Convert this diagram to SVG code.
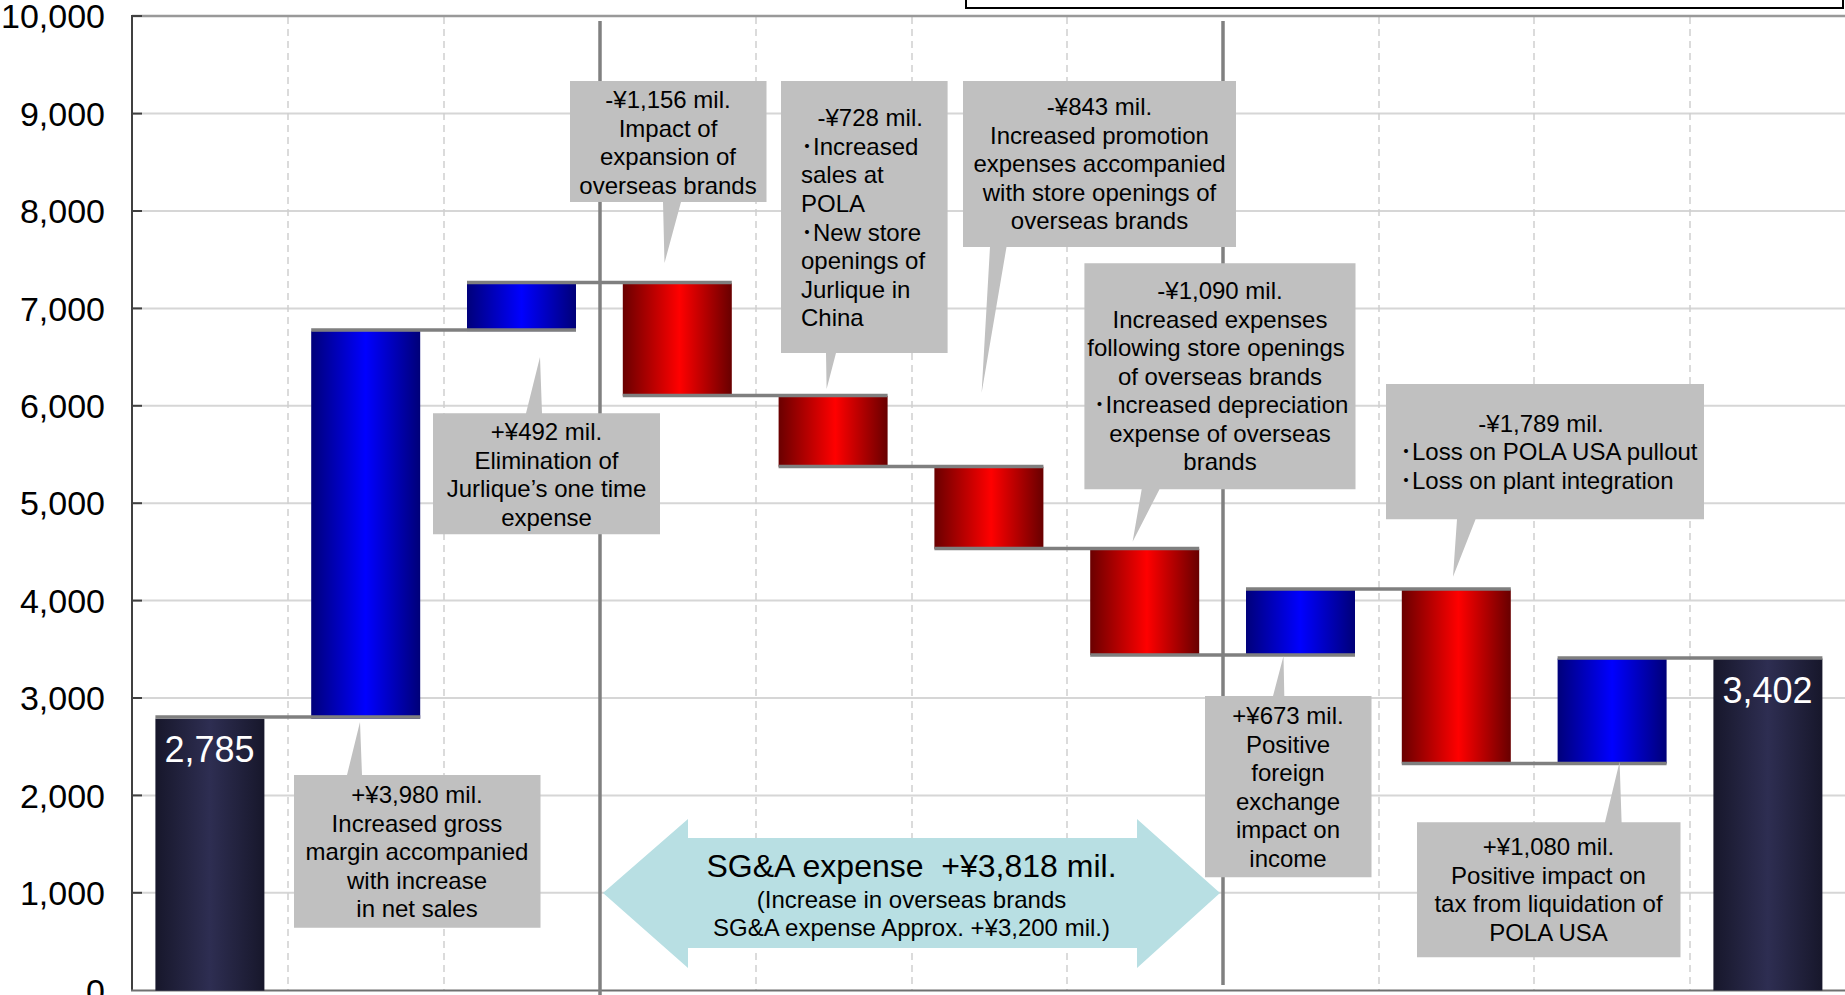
<svg xmlns="http://www.w3.org/2000/svg" width="1845" height="995" viewBox="0 0 1845 995">
<style>
text{font-family:"Liberation Sans",Arial,"Noto Sans CJK JP",sans-serif;fill:#000}
.ax{font-size:34px;text-anchor:end}
.cl{font-size:24px}
.c{text-anchor:middle}
.tot{font-size:36px;fill:#fff;text-anchor:middle}
.box{fill:#c0c0c0}
.hg{stroke:#d6d6d6;stroke-width:2}
.vg{stroke:#cfcfcf;stroke-width:1.5;stroke-dasharray:7 5}
.step{stroke:#7f7f7f;stroke-width:3.5;fill:none}
.sep{stroke:#808080;stroke-width:3.5}
.tick{stroke:#404040;stroke-width:2}
</style>
<defs>
<linearGradient id="gB" x1="0" y1="0" x2="1" y2="0">
<stop offset="0" stop-color="#00007a"/><stop offset="0.5" stop-color="#0000ff"/><stop offset="1" stop-color="#000078"/>
</linearGradient>
<linearGradient id="gR" x1="0" y1="0" x2="1" y2="0">
<stop offset="0" stop-color="#6a0000"/><stop offset="0.52" stop-color="#ff0000"/><stop offset="1" stop-color="#680000"/>
</linearGradient>
<linearGradient id="gT" x1="0" y1="0" x2="1" y2="0">
<stop offset="0" stop-color="#17172b"/><stop offset="0.5" stop-color="#2e2e52"/><stop offset="1" stop-color="#17172b"/>
</linearGradient>
</defs>
<rect width="1845" height="995" fill="#fff"/>
<!-- top box -->
<rect x="966" y="-10" width="877" height="18" fill="#fff" stroke="#000" stroke-width="2"/>
<g id="grid">
<line class="hg" x1="132" y1="113.6" x2="1845" y2="113.6"/>
<line class="hg" x1="132" y1="211" x2="1845" y2="211"/>
<line class="hg" x1="132" y1="308.4" x2="1845" y2="308.4"/>
<line class="hg" x1="132" y1="405.8" x2="1845" y2="405.8"/>
<line class="hg" x1="132" y1="503.2" x2="1845" y2="503.2"/>
<line class="hg" x1="132" y1="600.6" x2="1845" y2="600.6"/>
<line class="hg" x1="132" y1="698" x2="1845" y2="698"/>
<line class="hg" x1="132" y1="795.4" x2="1845" y2="795.4"/>
<line class="hg" x1="132" y1="892.8" x2="1845" y2="892.8"/>
<line class="vg" x1="288" y1="17" x2="288" y2="990"/>
<line class="vg" x1="444" y1="17" x2="444" y2="990"/>
<line class="vg" x1="756" y1="17" x2="756" y2="990"/>
<line class="vg" x1="912" y1="17" x2="912" y2="990"/>
<line class="vg" x1="1067" y1="17" x2="1067" y2="990"/>
<line class="vg" x1="1379" y1="17" x2="1379" y2="990"/>
<line class="vg" x1="1534" y1="17" x2="1534" y2="990"/>
<line class="vg" x1="1690" y1="17" x2="1690" y2="990"/>
<line x1="132" y1="16" x2="1845" y2="16" stroke="#999" stroke-width="2.5"/>
<line x1="132" y1="15" x2="132" y2="991" stroke="#404040" stroke-width="2"/>
<line x1="131" y1="990.5" x2="1845" y2="990.5" stroke="#707070" stroke-width="2"/>
<line class="tick" x1="132" y1="16" x2="142" y2="16"/>
<line class="tick" x1="132" y1="113.6" x2="142" y2="113.6"/>
<line class="tick" x1="132" y1="211" x2="142" y2="211"/>
<line class="tick" x1="132" y1="308.4" x2="142" y2="308.4"/>
<line class="tick" x1="132" y1="405.8" x2="142" y2="405.8"/>
<line class="tick" x1="132" y1="503.2" x2="142" y2="503.2"/>
<line class="tick" x1="132" y1="600.6" x2="142" y2="600.6"/>
<line class="tick" x1="132" y1="698" x2="142" y2="698"/>
<line class="tick" x1="132" y1="795.4" x2="142" y2="795.4"/>
<line class="tick" x1="132" y1="892.8" x2="142" y2="892.8"/>
</g>
<g id="axis-labels">
<text class="ax" x="105" y="28">10,000</text>
<text class="ax" x="105" y="126">9,000</text>
<text class="ax" x="105" y="223">8,000</text>
<text class="ax" x="105" y="321">7,000</text>
<text class="ax" x="105" y="418">6,000</text>
<text class="ax" x="105" y="515">5,000</text>
<text class="ax" x="105" y="613">4,000</text>
<text class="ax" x="105" y="710">3,000</text>
<text class="ax" x="105" y="808">2,000</text>
<text class="ax" x="105" y="905">1,000</text>
<text class="ax" x="105" y="1003">0</text>
</g>
<g id="bar-start"><rect x="155.4" y="718.7" width="109" height="272" fill="url(#gT)"/><text class="tot" x="209.5" y="762">2,785</text></g>
<g id="bar-gross-margin"><rect x="311.2" y="331.1" width="109" height="387.6" fill="url(#gB)"/></g>
<g id="bar-jurlique"><rect x="467" y="283.2" width="109" height="47.9" fill="url(#gB)"/></g>
<g id="bar-expansion"><rect x="622.8" y="283.2" width="109" height="112.6" fill="url(#gR)"/></g>
<g id="bar-pola-sales"><rect x="778.6" y="395.8" width="109" height="70.9" fill="url(#gR)"/></g>
<g id="bar-promotion"><rect x="934.4" y="466.7" width="109" height="82.1" fill="url(#gR)"/></g>
<g id="bar-store-openings"><rect x="1090.2" y="548.8" width="109" height="106.2" fill="url(#gR)"/></g>
<g id="bar-fx"><rect x="1246" y="589.4" width="109" height="65.6" fill="url(#gB)"/></g>
<g id="bar-loss"><rect x="1401.8" y="589.4" width="109" height="174.2" fill="url(#gR)"/></g>
<g id="bar-tax"><rect x="1557.6" y="658.5" width="109" height="105.1" fill="url(#gB)"/></g>
<g id="bar-end"><rect x="1713.4" y="658.5" width="109" height="332" fill="url(#gT)"/><text class="tot" x="1767.5" y="703">3,402</text></g>
<g id="connectors">
<line class="step" x1="155.4" y1="717" x2="420.2" y2="717"/>
<line class="step" x1="311.2" y1="330" x2="576" y2="330"/>
<line class="step" x1="467" y1="282.5" x2="731.8" y2="282.5"/>
<line class="step" x1="622.8" y1="395.5" x2="887.6" y2="395.5"/>
<line class="step" x1="778.6" y1="466.5" x2="1043.4" y2="466.5"/>
<line class="step" x1="934.4" y1="548.5" x2="1199.2" y2="548.5"/>
<line class="step" x1="1090.2" y1="655" x2="1355" y2="655"/>
<line class="step" x1="1246" y1="589" x2="1510.8" y2="589"/>
<line class="step" x1="1401.8" y1="763.5" x2="1666.6" y2="763.5"/>
<line class="step" x1="1557.6" y1="658" x2="1822.4" y2="658"/>
<line class="sep" x1="600" y1="21" x2="600" y2="995"/>
<line class="sep" x1="1223" y1="21" x2="1223" y2="985"/>
</g>
<g id="sga-arrow">
<path d="M603,893 L688,819 L688,838 L1137,838 L1137,819 L1220,893 L1137,968 L1137,948 L688,948 L688,968 Z" fill="#b8dfe3"/>
<text class="c" x="911.5" y="877" style="font-size:32px">SG&amp;A expense&#160; +¥3,818 mil.</text>
<text class="cl c" x="911.5" y="908">(Increase in overseas brands</text>
<text class="cl c" x="911.5" y="936">SG&amp;A expense Approx. +¥3,200 mil.)</text>
</g>
<g id="callout-gross-margin">
<path class="box" d="M294,775 H347 L360,722 L362,775 H540.5 V927.7 H294 Z"/>
<text class="cl c" x="417" y="803">+¥3,980 mil.</text>
<text class="cl c" x="417" y="831.5">Increased gross</text>
<text class="cl c" x="417" y="860">margin accompanied</text>
<text class="cl c" x="417" y="888.5">with increase</text>
<text class="cl c" x="417" y="917">in net sales</text>
</g>
<g id="callout-jurlique">
<path class="box" d="M433,413.3 H526 L540,357 L542,413.3 H660 V534.3 H433 Z"/>
<text class="cl c" x="546.5" y="440">+¥492 mil.</text>
<text class="cl c" x="546.5" y="468.5">Elimination of</text>
<text class="cl c" x="546.5" y="497">Jurlique’s one time</text>
<text class="cl c" x="546.5" y="525.5">expense</text>
</g>
<g id="callout-expansion">
<path class="box" d="M570,81 H766.5 V202 H681 L664.5,263 L663,202 H570 Z"/>
<text class="cl c" x="668" y="108">-¥1,156 mil.</text>
<text class="cl c" x="668" y="136.5">Impact of</text>
<text class="cl c" x="668" y="165">expansion of</text>
<text class="cl c" x="668" y="193.5">overseas brands</text>
</g>
<g id="callout-pola-sales">
<path class="box" d="M781,81 H947.6 V353 H836 L826.6,389 L826,353 H781 Z"/>
<text class="cl" x="817.5" y="126">-¥728 mil.</text>
<text class="cl" x="801" y="155">･Increased</text>
<text class="cl" x="801" y="183">sales at</text>
<text class="cl" x="801" y="211.5">POLA</text>
<text class="cl" x="801" y="240.5">･New store</text>
<text class="cl" x="801" y="269">openings of</text>
<text class="cl" x="801" y="297.5">Jurlique in</text>
<text class="cl" x="801" y="326">China</text>
</g>
<g id="callout-promotion">
<path class="box" d="M963,81 H1236 V247 H1006.5 L981.6,393 L990,247 H963 Z"/>
<text class="cl c" x="1099.5" y="115">-¥843 mil.</text>
<text class="cl c" x="1099.5" y="143.5">Increased promotion</text>
<text class="cl c" x="1099.5" y="172">expenses accompanied</text>
<text class="cl c" x="1099.5" y="200.5">with store openings of</text>
<text class="cl c" x="1099.5" y="229">overseas brands</text>
</g>
<g id="callout-store-openings">
<path class="box" d="M1084.4,263.3 H1355.5 V489.3 H1159.5 L1132.6,541.7 L1141.7,489.3 H1084.4 Z"/>
<text class="cl c" x="1220" y="299">-¥1,090 mil.</text>
<text class="cl c" x="1220" y="327.5">Increased expenses</text>
<text class="cl c" x="1216" y="356">following store openings</text>
<text class="cl c" x="1220" y="384.5">of overseas brands</text>
<text class="cl c" x="1221" y="413">･Increased depreciation</text>
<text class="cl c" x="1220" y="441.5">expense of overseas</text>
<text class="cl c" x="1220" y="470">brands</text>
</g>
<g id="callout-loss">
<path class="box" d="M1386,384 H1704 V519.3 H1475.6 L1453,576.7 L1457,519.3 H1386 Z"/>
<text class="cl c" x="1541" y="431.5">-¥1,789 mil.</text>
<text class="cl" x="1400" y="460">･Loss on POLA USA pullout</text>
<text class="cl" x="1400" y="488.5">･Loss on plant integration</text>
</g>
<g id="callout-fx">
<path class="box" d="M1205,696 H1273 L1283.5,656 L1284.3,696 H1371.5 V877.3 H1205 Z"/>
<text class="cl c" x="1288" y="724">+¥673 mil.</text>
<text class="cl c" x="1288" y="752.5">Positive</text>
<text class="cl c" x="1288" y="781">foreign</text>
<text class="cl c" x="1288" y="809.5">exchange</text>
<text class="cl c" x="1288" y="838">impact on</text>
<text class="cl c" x="1288" y="866.5">income</text>
</g>
<g id="callout-tax">
<path class="box" d="M1417,822.3 H1605 L1619.6,761.7 L1621.6,822.3 H1680.5 V957.3 H1417 Z"/>
<text class="cl c" x="1548.5" y="855">+¥1,080 mil.</text>
<text class="cl c" x="1548.5" y="883.5">Positive impact on</text>
<text class="cl c" x="1548.5" y="912">tax from liquidation of</text>
<text class="cl c" x="1548.5" y="940.5">POLA USA</text>
</g>
</svg>
